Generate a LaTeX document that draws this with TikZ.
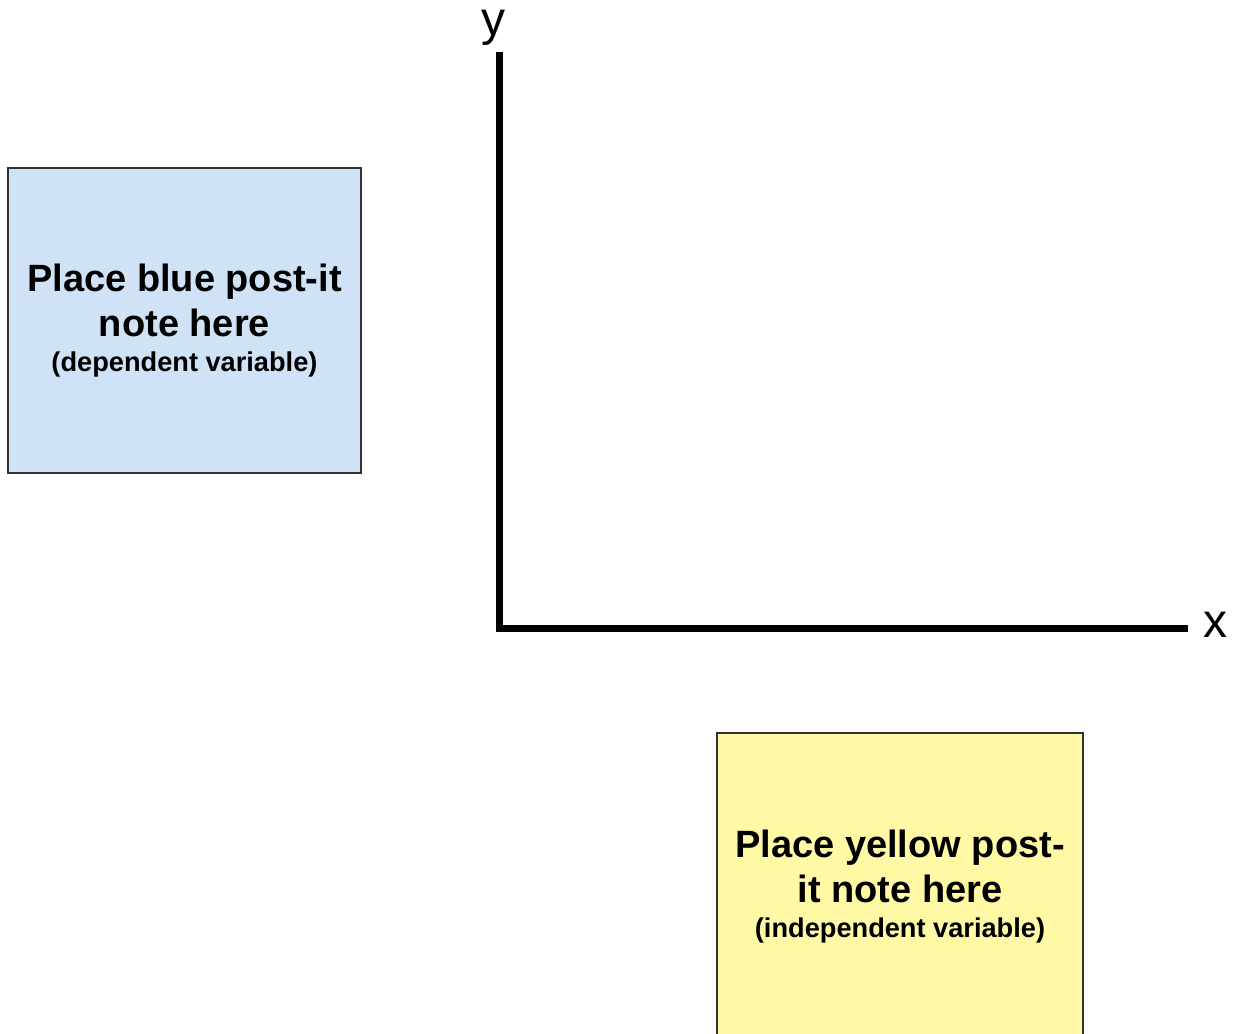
\documentclass[tikz,border=0pt]{standalone}
\usepackage{fontspec}
\setmainfont{Liberation Sans}
\usepackage{tikz}
\usetikzlibrary{positioning}

\definecolor{bluenote}{HTML}{CFE2F6}
\definecolor{yellownote}{HTML}{FFF8A5}

\begin{document}
\begin{tikzpicture}[x=0.5pt, y=-0.5pt,
    note/.style={draw=black!80, line width=1pt, align=center, inner sep=0pt,
        font=\fontsize{19}{22.5}\selectfont\bfseries},
    axis/.style={line width=3.5pt, line join=miter, line cap=butt},
    lbl/.style={font=\fontsize{24}{28}\selectfont, inner sep=0pt, anchor=base}
]
\useasboundingbox (0,0) rectangle (1239,1034);

\node[note, fill=bluenote, minimum width=176.5pt, minimum height=152.5pt] (blue) at (184.5,320.5)
    {Place blue post-it\\note here\\[-5pt]{\fontsize{13.6}{22.5}\selectfont (dependent variable)}};
\node[note, fill=yellownote, minimum width=183pt, minimum height=154pt] (yellow) at (900,887)
    {Place yellow post-\\it note here\\[-5pt]{\fontsize{13.6}{22.5}\selectfont (independent variable)}};

\coordinate (ytop) at (499,52);
\coordinate (origin) at (499,628);
\coordinate (xend) at (1188,628);
\draw[axis] (ytop) -- (origin) -- (xend);

\node[lbl] (ylbl) at (493.5,35) {y};
\node[lbl] (xlbl) at (1215,637) {x};
\end{tikzpicture}
\end{document}
